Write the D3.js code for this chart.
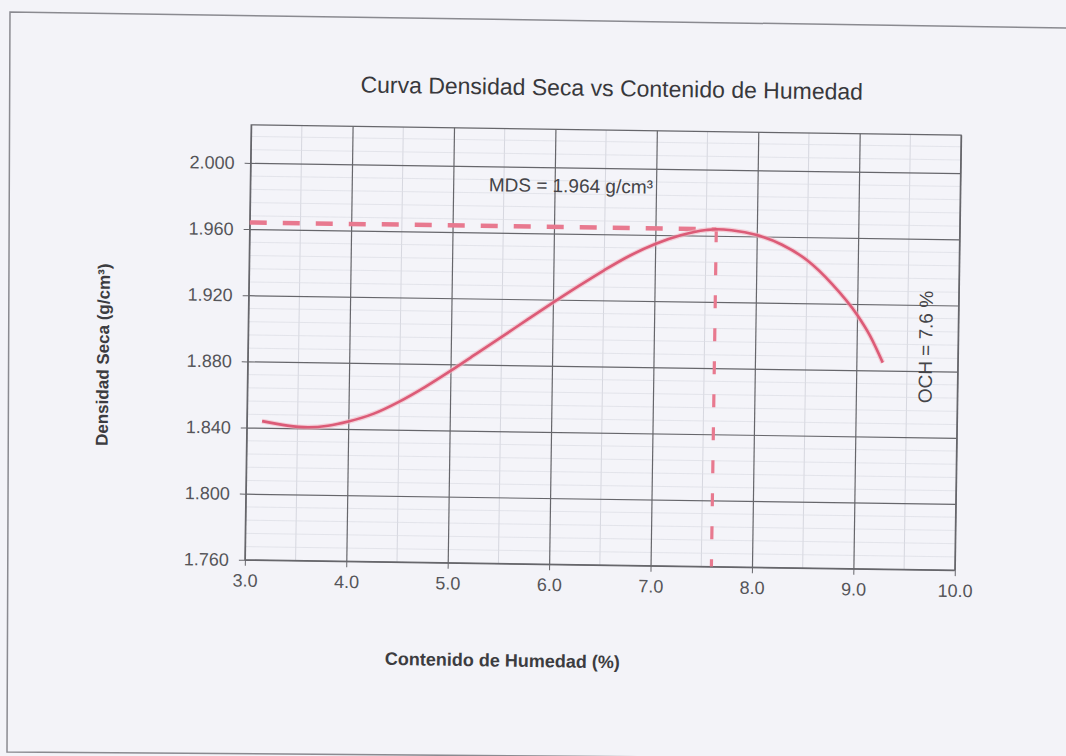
<!DOCTYPE html>
<html>
<head>
<meta charset="utf-8">
<script src="https://cdn.jsdelivr.net/npm/d3@7"></script>
<style>
  html, body { margin: 0; padding: 0; background: #f3f3f8; }
  svg { display: block; }
  text { font-family: "Liberation Sans", Arial, sans-serif; }
</style>
</head>
<body>
<svg id="chart" width="1066" height="756"></svg>
<script>
// Proctor compaction curve: moisture content (%) vs dry density (g/cm³)
const moisture   = [3.15, 3.4, 3.6, 3.8, 4.0, 4.25, 4.5, 4.75, 5.0, 5.25, 5.5, 5.75, 6.0, 6.25, 6.5, 6.75, 7.0, 7.25, 7.5, 7.6, 7.75, 8.0, 8.25, 8.5, 8.75, 9.0, 9.13, 9.26];
const dryDensity = [1.8440, 1.8415, 1.8407, 1.8418, 1.8445, 1.8495, 1.8570, 1.8660, 1.8760, 1.8865, 1.8970, 1.9077, 1.9182, 1.9284, 1.9382, 1.9472, 1.9545, 1.9600, 1.9634, 1.9640, 1.9635, 1.9608, 1.9552, 1.9460, 1.9318, 1.9135, 1.9010, 1.8848];

const xTickValues = [3, 4, 5, 6, 7, 8, 9, 10];
const yTickValues = [1.76, 1.80, 1.84, 1.88, 1.92, 1.96, 2.00];

const optimumMoisture = 7.6;   // OCH
const maxDryDensity   = 1.964; // MDS

const titleText  = "Curva Densidad Seca vs Contenido de Humedad";
const xLabelText = "Contenido de Humedad (%)";
const yLabelText = "Densidad Seca  (g/cm³)";

// ---- layout ----
const plot = { left: 248, right: 958, top: 130, bottom: 565 };
const x = d3.scaleLinear().domain([3, 10]).range([plot.left, plot.right]);
const y = d3.scaleLinear().domain([1.76, 2.023]).range([plot.bottom, plot.top]);

const svg = d3.select("#chart");

// sheet border
svg.append("path")
  .attr("d", "M1070,28 L10,12 L7,752 L1070,760")
  .attr("fill", "none")
  .attr("stroke", "#8a8a90")
  .attr("stroke-width", 1.5);

const g = svg.append("g").attr("transform", "rotate(0.83 603 347)");

// plot background
g.append("rect")
  .attr("x", plot.left).attr("y", plot.top)
  .attr("width", plot.right - plot.left).attr("height", plot.bottom - plot.top)
  .attr("fill", "#f4f4f9");

// minor grid
const minorX = d3.range(3.5, 10, 1);
const minorY = d3.range(1.768, 2.023, 0.008).filter(v => yTickValues.every(t => Math.abs(t - v) > 1e-6));
g.append("g").selectAll("line").data(minorX).join("line")
  .attr("x1", d => x(d)).attr("x2", d => x(d))
  .attr("y1", plot.top).attr("y2", plot.bottom)
  .attr("stroke", "#cfd0d8").attr("stroke-width", 0.8);
g.append("g").selectAll("line").data(minorY).join("line")
  .attr("x1", plot.left).attr("x2", plot.right)
  .attr("y1", d => y(d)).attr("y2", d => y(d))
  .attr("stroke", "#dcdde4").attr("stroke-width", 0.7);

// major grid
const gridColor = "#66666b";
g.append("g")
  .attr("transform", `translate(0,${plot.bottom})`)
  .call(d3.axisBottom(x).tickValues(xTickValues).tickSize(-(plot.bottom - plot.top)).tickFormat(""))
  .call(s => s.select(".domain").remove())
  .call(s => s.selectAll("line").attr("stroke", gridColor).attr("stroke-width", 1.2));
g.append("g")
  .attr("transform", `translate(${plot.left},0)`)
  .call(d3.axisLeft(y).tickValues(yTickValues).tickSize(-(plot.right - plot.left)).tickFormat(""))
  .call(s => s.select(".domain").remove())
  .call(s => s.selectAll("line").attr("stroke", gridColor).attr("stroke-width", 1.2));

// plot frame
g.append("rect")
  .attr("x", plot.left).attr("y", plot.top)
  .attr("width", plot.right - plot.left).attr("height", plot.bottom - plot.top)
  .attr("fill", "none").attr("stroke", gridColor).attr("stroke-width", 1.3);

// axes with labels
const tickColor = "#555559";
g.append("g")
  .attr("transform", `translate(0,${plot.bottom})`)
  .call(d3.axisBottom(x).tickValues(xTickValues).tickFormat(d3.format(".1f")).tickSize(6).tickPadding(8))
  .call(s => s.select(".domain").remove())
  .call(s => s.selectAll("line").attr("stroke", gridColor))
  .call(s => s.selectAll("text").attr("fill", tickColor).attr("font-size", 18));
g.append("g")
  .attr("transform", `translate(${plot.left},0)`)
  .call(d3.axisLeft(y).tickValues(yTickValues).tickFormat(d3.format(".3f")).tickSize(6).tickPadding(10))
  .call(s => s.select(".domain").remove())
  .call(s => s.selectAll("line").attr("stroke", gridColor))
  .call(s => s.selectAll("text").attr("fill", tickColor).attr("font-size", 18));

// reference lines at the optimum
const dashColor = "#e8798f";
const guide = d3.line().x(d => x(d[0])).y(d => y(d[1]));
g.append("path")
  .attr("d", guide([[3, maxDryDensity], [optimumMoisture, maxDryDensity]]))
  .attr("fill", "none").attr("stroke", dashColor)
  .attr("stroke-width", 4.5).attr("stroke-dasharray", "17 16");
g.append("path")
  .attr("d", guide([[optimumMoisture, maxDryDensity], [optimumMoisture, 1.76]]))
  .attr("fill", "none").attr("stroke", dashColor)
  .attr("stroke-width", 3.2).attr("stroke-dasharray", "13 20");

// compaction curve
const curve = d3.line()
  .x((d, i) => x(moisture[i]))
  .y(d => y(d))
  .curve(d3.curveMonotoneX);
g.append("path")
  .attr("d", curve(dryDensity))
  .attr("fill", "none").attr("stroke", "#f2b5c2").attr("stroke-width", 5).attr("opacity", 0.6);
g.append("path")
  .attr("d", curve(dryDensity))
  .attr("fill", "none").attr("stroke", "#dc5b77").attr("stroke-width", 2.6);

// annotations
g.append("text")
  .attr("x", x(6.16)).attr("y", y(1.985))
  .attr("text-anchor", "middle")
  .attr("font-size", 19).attr("fill", "#444448")
  .text(`MDS = ${d3.format(".3f")(maxDryDensity)} g/cm³`);

g.append("text")
  .attr("transform", `translate(${x(9.68)},${y(1.8946)}) rotate(-90)`)
  .attr("text-anchor", "middle").attr("dy", "0.35em")
  .attr("font-size", 19).attr("fill", "#444448")
  .text(`OCH = ${optimumMoisture.toFixed(1)} %`);

// titles
g.append("text")
  .attr("x", 608).attr("y", 96)
  .attr("text-anchor", "middle")
  .attr("font-size", 23).attr("fill", "#38383c")
  .text(titleText);

g.append("text")
  .attr("x", 507).attr("y", 668)
  .attr("text-anchor", "middle")
  .attr("font-size", 18).attr("font-weight", "bold").attr("fill", "#3c3c40")
  .text(xLabelText);

g.append("text")
  .attr("transform", "translate(103,362) rotate(-90)")
  .attr("text-anchor", "middle").attr("dy", "0.35em")
  .attr("font-size", 17).attr("font-weight", "bold").attr("fill", "#3c3c40")
  .text(yLabelText);
</script>
</body>
</html>
